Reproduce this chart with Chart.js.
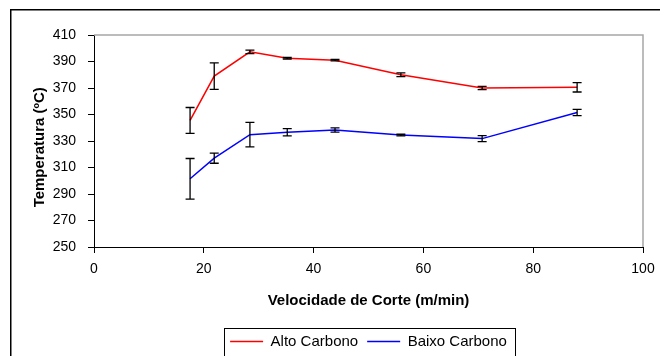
<!DOCTYPE html>
<html lang="pt">
<head>
  <meta charset="UTF-8" />
  <title>Temperatura x Velocidade de Corte</title>
  <script src="https://cdn.jsdelivr.net/npm/chart.js"></script>
  <style>
    html, body { margin: 0; padding: 0; background: #fff; }
    #wrap { width: 660px; height: 356px; position: relative; }
  </style>
</head>
<body>
  <div id="wrap"><canvas id="chart" width="660" height="356"></canvas></div>

  <script>
    // Velocidade de corte (m/min)
    const velocidade = [17.5, 21.9, 28.4, 35.2, 43.9, 55.9, 70.7, 88.0];

    // Temperatura (C) e desvio de cada ponto
    const altoCarbono = [345.5, 379, 397.3, 392.5, 391, 380, 370, 370.5];
    const altoErro = [9.8, 10, 1.3, 0.6, 0.6, 1.4, 1.3, 3.5];
    const baixoCarbono = [301.5, 317, 334.8, 336.6, 338.3, 334.5, 331.8, 351.5];
    const baixoErro = [15.3, 3.8, 9.2, 2.7, 1.6, 0.6, 2.3, 2.4];

    const xTicks = [0, 20, 40, 60, 80, 100];
    const yTicks = [250, 270, 290, 310, 330, 350, 370, 390, 410];

    const FONT = "'Liberation Sans', Arial, sans-serif";
    const toPoints = (xs, ys) => xs.map((x, i) => ({ x: x, y: ys[i] }));

    // frame, plot border, legend box
    const decor = {
      id: 'decor',
      beforeDraw(chart) {
        const ctx = chart.ctx;
        ctx.save();
        ctx.strokeStyle = '#000';
        ctx.lineWidth = 1.5;
        ctx.strokeRect(10.75, 9.75, 800, 500);
        ctx.restore();
      },
      beforeDatasetsDraw(chart) {
        const { ctx, chartArea: a } = chart;
        ctx.save();
        ctx.strokeStyle = '#a6a6a6';
        ctx.lineWidth = 1.5;
        ctx.beginPath();
        ctx.moveTo(a.left, a.top);
        ctx.lineTo(a.right, a.top);
        ctx.lineTo(a.right, a.bottom);
        ctx.stroke();
        ctx.restore();
      },
      afterDraw(chart) {
        const lg = chart.legend;
        if (!lg || !lg.legendHitBoxes.length) return;
        const hb = lg.legendHitBoxes;
        const first = hb[0], last = hb[hb.length - 1];
        const cy = first.top + first.height / 2;
        const ctx = chart.ctx;
        ctx.save();
        ctx.strokeStyle = '#000';
        ctx.lineWidth = 1;
        const l = Math.round(first.left - 6) + 0.5;
        const r = Math.round(last.left + last.width + 8) + 0.5;
        ctx.strokeRect(l, Math.round(cy - 14) + 0.5, r - l, 28);
        ctx.restore();
      }
    };

    // error bars
    const errorBars = {
      id: 'errorBars',
      afterDatasetsDraw(chart) {
        const ctx = chart.ctx;
        const xs = chart.scales.x, ys = chart.scales.y;
        const errs = [altoErro, baixoErro];
        ctx.save();
        ctx.strokeStyle = '#000';
        ctx.lineWidth = 1.3;
        chart.data.datasets.forEach((ds, d) => {
          ds.data.forEach((p, i) => {
            const e = errs[d][i];
            const px = xs.getPixelForValue(p.x);
            const top = ys.getPixelForValue(p.y + e);
            const bot = ys.getPixelForValue(p.y - e);
            ctx.beginPath();
            ctx.moveTo(px, top); ctx.lineTo(px, bot);
            ctx.moveTo(px - 4.5, top); ctx.lineTo(px + 4.5, top);
            ctx.moveTo(px - 4.5, bot); ctx.lineTo(px + 4.5, bot);
            ctx.stroke();
          });
        });
        ctx.restore();
      }
    };

    new Chart(document.getElementById('chart'), {
      type: 'line',
      data: {
        datasets: [
          {
            label: 'Alto Carbono',
            data: toPoints(velocidade, altoCarbono),
            borderColor: '#ff0000',
            backgroundColor: '#ff0000',
            borderWidth: 1.5,
            pointRadius: 0,
            tension: 0
          },
          {
            label: 'Baixo Carbono',
            data: toPoints(velocidade, baixoCarbono),
            borderColor: '#0000ff',
            backgroundColor: '#0000ff',
            borderWidth: 1.5,
            pointRadius: 0,
            tension: 0
          }
        ]
      },
      options: {
        responsive: false,
        animation: false,
        layout: { padding: { top: 35, right: 17, left: 0, bottom: -3 } },
        scales: {
          x: {
            type: 'linear',
            min: 0,
            max: 100,
            afterBuildTicks: s => { s.ticks = xTicks.map(v => ({ value: v })); },
            afterFit: s => { s.height = 78; s.paddingLeft = 0; s.paddingRight = 0; },
            grid: { drawOnChartArea: false, drawTicks: true, tickLength: 6, color: '#000' },
            border: { display: true, color: '#000', width: 1 },
            ticks: { color: '#000', font: { family: FONT, size: 14 }, padding: 8, maxRotation: 0 },
            title: {
              display: true,
              text: 'Velocidade de Corte (m/min)',
              color: '#000',
              font: { family: FONT, size: 15, weight: 'bold' },
              padding: 15
            }
          },
          y: {
            min: 250,
            max: 410,
            afterBuildTicks: s => { s.ticks = yTicks.map(v => ({ value: v })); },
            afterFit: s => { s.width = 94; s.paddingTop = 0; s.paddingBottom = 0; },
            grid: { drawOnChartArea: false, drawTicks: true, tickLength: 6, color: '#000' },
            border: { display: true, color: '#000', width: 1 },
            ticks: { color: '#000', font: { family: FONT, size: 14 }, padding: 12 },
            title: {
              display: true,
              text: 'Temperatura (ºC)   ',  // trailing spaces nudge it down like the original
              color: '#000',
              font: { family: FONT, size: 15, weight: 'bold' },
              padding: { top: 31, bottom: 0 }
            }
          }
        },
        plugins: {
          legend: {
            position: 'bottom',
            fullSize: false,
            labels: {
              usePointStyle: true,
              pointStyle: 'line',
              pointStyleWidth: 33,
              color: '#000',
              font: { family: FONT, size: 15 },
              padding: 9
            }
          },
          tooltip: { enabled: false }
        }
      },
      plugins: [decor, errorBars]
    });
  </script>
</body>
</html>
